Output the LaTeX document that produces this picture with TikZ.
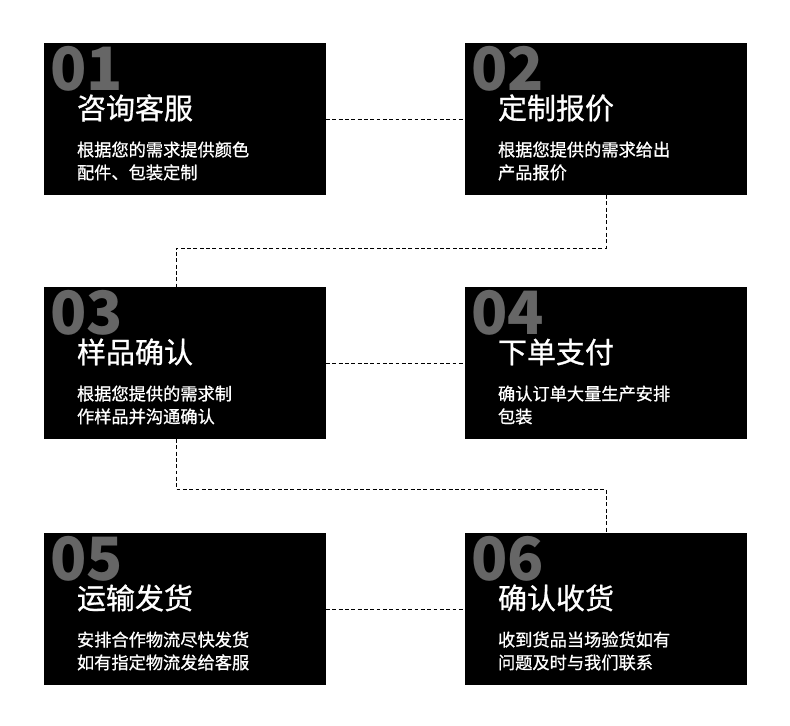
\documentclass[tikz,border=0pt]{standalone}
\usepackage{fontspec}
\newfontfamily\cjk{Noto Sans CJK SC}
\newfontfamily\cjkmid[FakeBold=0.9]{Noto Sans CJK SC}
\usetikzlibrary{calc}
\definecolor{stNum}{HTML}{666666}
\begin{document}
\begin{tikzpicture}[
  x=1cm,y=1cm,
  font=\cjk,
  every node/.style={outer sep=0pt},
  stepbox/.style={fill=black,minimum width=5.64cm,minimum height=3.04cm,inner sep=0pt},
  stepnum/.style={anchor=base west,inner sep=0pt,text=stNum,font=\cjk\bfseries\fontsize{34}{34}\selectfont},
  steptitle/.style={anchor=base west,inner sep=0pt,text=white,font=\cjkmid\fontsize{16.5}{18}\selectfont},
  stepdesc/.style={anchor=base west,inner sep=0pt,text=white,align=left,font=\cjkmid\fontsize{9.8}{13}\selectfont},
  link/.style={draw=black,line width=0.5pt,dash pattern=on 2.2pt off 1.4pt}
]
\path[use as bounding box] (0,0) rectangle (15.8,14.5);
% step boxes
\node[stepbox] (s1) at (3.70,12.12) {};
\node[stepbox] (s2) at (12.12,12.12) {};
\node[stepbox] (s3) at (3.70,7.24) {};
\node[stepbox] (s4) at (12.12,7.24) {};
\node[stepbox] (s5) at (3.70,2.32) {};
\node[stepbox] (s6) at (12.12,2.32) {};
% connectors
\draw[link] (s1.east) -- (s2.west);
\coordinate (bend1) at (3.52,9.54);
\draw[link] (s2.south) |- (bend1) -- (bend1 |- s3.north);
\draw[link] (s3.east) -- (s4.west);
\coordinate (bend2) at (3.52,4.72);
\draw[link] (bend2 |- s3.south) -- (bend2) -| (s6.north);
\draw[link] (s5.east) -- (s6.west);
% 01
\node[stepnum] (n1) at ($(s1.north west)+(0.12,-0.96)$) {01};
\node[steptitle] (t1) at ($(s1.north west)+(0.66,-1.52)$) {咨询客服};
\node[stepdesc] (d1) at ($(s1.north west)+(0.66,-2.72)$) {根据您的需求提供颜色\\配件、包装定制};
% 02
\node[stepnum] (n2) at ($(s2.north west)+(0.12,-0.96)$) {02};
\node[steptitle] (t2) at ($(s2.north west)+(0.66,-1.52)$) {定制报价};
\node[stepdesc] (d2) at ($(s2.north west)+(0.66,-2.72)$) {根据您提供的需求给出\\产品报价};
% 03
\node[stepnum] (n3) at ($(s3.north west)+(0.12,-0.96)$) {03};
\node[steptitle] (t3) at ($(s3.north west)+(0.66,-1.52)$) {样品确认};
\node[stepdesc] (d3) at ($(s3.north west)+(0.66,-2.72)$) {根据您提供的需求制\\作样品并沟通确认};
% 04
\node[stepnum] (n4) at ($(s4.north west)+(0.12,-0.96)$) {04};
\node[steptitle] (t4) at ($(s4.north west)+(0.66,-1.52)$) {下单支付};
\node[stepdesc] (d4) at ($(s4.north west)+(0.66,-2.72)$) {确认订单大量生产安排\\包装};
% 05
\node[stepnum] (n5) at ($(s5.north west)+(0.12,-0.96)$) {05};
\node[steptitle] (t5) at ($(s5.north west)+(0.66,-1.52)$) {运输发货};
\node[stepdesc] (d5) at ($(s5.north west)+(0.66,-2.72)$) {安排合作物流尽快发货\\如有指定物流发给客服};
% 06
\node[stepnum] (n6) at ($(s6.north west)+(0.12,-0.96)$) {06};
\node[steptitle] (t6) at ($(s6.north west)+(0.66,-1.52)$) {确认收货};
\node[stepdesc] (d6) at ($(s6.north west)+(0.66,-2.72)$) {收到货品当场验货如有\\问题及时与我们联系};
\end{tikzpicture}
\end{document}
